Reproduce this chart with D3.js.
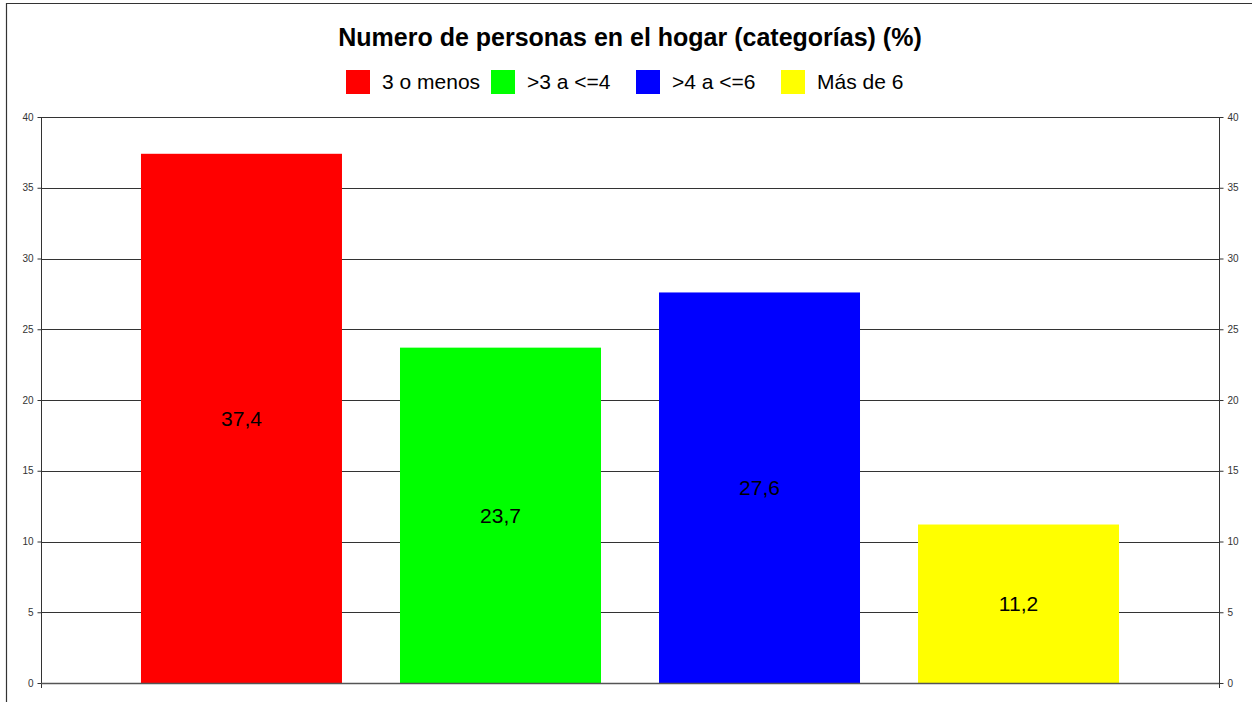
<!DOCTYPE html>
<html>
<head>
<meta charset="utf-8">
<script src="https://cdn.jsdelivr.net/npm/d3@7/dist/d3.min.js"></script>
<style>
html,body{margin:0;padding:0;background:#fff;overflow:hidden;}
svg{display:block;font-family:"Liberation Sans",Arial,sans-serif;}
</style>
</head>
<body>
<svg id="chart" width="1252" height="702"></svg>
<script>
const titleText = "Numero de personas en el hogar (categorías) (%)";
const categories = ["3 o menos", ">3 a <=4", ">4 a <=6", "Más de 6"];
const values = [37.4, 23.7, 27.6, 11.2];
const valueLabels = ["37,4", "23,7", "27,6", "11,2"];
const colors = ["#ff0000", "#00ff00", "#0000ff", "#ffff00"];
const yTicks = [0, 5, 10, 15, 20, 25, 30, 35, 40];

const svg = d3.select("#chart");
const L = 41, R = 1219, T = 117, B = 683;

// outer border
svg.append("path").attr("d", "M6.5,702 V3.5 H1260").attr("fill", "none")
  .attr("stroke", "#333").attr("stroke-width", 1.2);

const x = d3.scaleBand().domain(categories).range([L, R])
  .paddingInner(0.224).paddingOuter(0.386);
const y = d3.scaleLinear().domain([0, 40]).range([B, T]);

// gridlines
svg.append("g").selectAll("line").data(yTicks.filter(d => d > 0)).join("line")
  .attr("x1", L).attr("x2", R)
  .attr("y1", d => Math.round(y(d)) + 0.5).attr("y2", d => Math.round(y(d)) + 0.5)
  .attr("stroke", "#333").attr("stroke-width", 1);

// bars
svg.append("g").selectAll("rect").data(values).join("rect")
  .attr("x", (d, i) => x(categories[i]))
  .attr("width", x.bandwidth())
  .attr("y", d => y(d))
  .attr("height", d => y(0) - y(d))
  .attr("fill", (d, i) => colors[i]);

// value labels
svg.append("g").selectAll("text").data(values).join("text")
  .attr("x", (d, i) => x(categories[i]) + x.bandwidth() / 2)
  .attr("y", d => (y(d) + y(0)) / 2)
  .attr("dy", "0.35em")
  .attr("text-anchor", "middle")
  .attr("font-size", 21).attr("fill", "#000")
  .text((d, i) => valueLabels[i]);

// axes
const leftAxis = d3.axisLeft(y).tickValues(yTicks).tickSize(4).tickPadding(4);
const rightAxis = d3.axisRight(y).tickValues(yTicks).tickSize(4).tickPadding(4);
const gl = svg.append("g").attr("transform", `translate(${L + 0.5},0)`).call(leftAxis);
const gr = svg.append("g").attr("transform", `translate(${R + 0.5},0)`).call(rightAxis);
[gl, gr].forEach(g => {
  g.select(".domain").attr("d", `M0,${T} V${B + 5}`).attr("stroke", "#333");
  g.selectAll(".tick line").attr("stroke", "#333");
  g.selectAll(".tick text").attr("font-size", 10).attr("fill", "#333")
    .attr("font-family", "'Liberation Sans',Arial,sans-serif");
});

// baseline
svg.append("line").attr("x1", L).attr("x2", R)
  .attr("y1", y(0) + 0.5).attr("y2", y(0) + 0.5)
  .attr("stroke", "#555").attr("stroke-width", 1.5);

// title
svg.append("text").attr("x", 630).attr("y", 46).attr("text-anchor", "middle")
  .attr("font-size", 25).attr("font-weight", "bold").attr("fill", "#000")
  .text(titleText);

// legend
const legendX = [346, 491, 636, 781];
const lg = svg.append("g").selectAll("g").data(categories).join("g")
  .attr("transform", (d, i) => `translate(${legendX[i]},70)`);
lg.append("rect").attr("width", 24).attr("height", 24)
  .attr("fill", (d, i) => colors[i]);
lg.append("text").attr("x", 36).attr("y", 12).attr("dy", "0.35em")
  .attr("font-size", 21).attr("fill", "#000").text(d => d);
</script>
</body>
</html>
